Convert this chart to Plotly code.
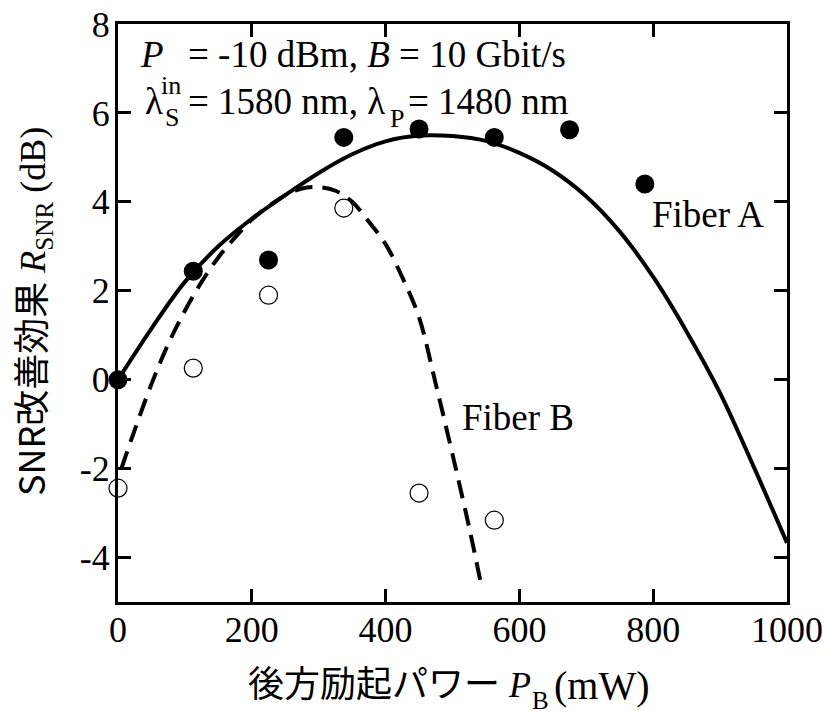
import plotly.graph_objects as go

# Measured points (backward pump power in mW, SNR improvement in dB)
pump_power = [0, 112.5, 225, 337.5, 450, 562.5, 675, 787.5]
fiber_a_snr = [0.0, 2.44, 2.69, 5.45, 5.64, 5.45, 5.62, 4.40]
pump_power_b = [0, 112.5, 225, 337.5, 450, 562.5]
fiber_b_snr = [-2.44, 0.26, 1.90, 3.86, -2.55, -3.16]

# Fitted curves
fit_a_x = [0, 50, 100, 150, 200, 250, 300, 350, 400, 450, 500, 550, 600,
           650, 700, 750, 800, 850, 900, 950, 1000]
fit_a_y = [0.0, 1.15, 2.2, 3.0, 3.62, 4.15, 4.65, 5.07, 5.36, 5.49, 5.48,
           5.37, 5.1, 4.7, 4.12, 3.33, 2.31, 1.08, -0.3, -1.95, -3.67]
fit_b_x = [5, 25, 50, 75, 100, 125, 150, 175, 200, 225, 250, 275, 300, 325,
           350, 375, 400, 425, 450, 475, 500, 525, 544]
fit_b_y = [-2.0, -1.13, -0.1, 0.8, 1.55, 2.2, 2.75, 3.2, 3.6, 3.9, 4.15, 4.3,
           4.33, 4.25, 4.0, 3.55, 3.05, 2.3, 1.4, -0.1, -1.68, -3.33, -4.7]

x_ticks = [0, 200, 400, 600, 800, 1000]
y_ticks = [-4, -2, 0, 2, 4, 6, 8]

SERIF = "Liberation Serif"
GOTHIC = "Noto Sans CJK JP"
W, H = 825, 715
L, R, T, B = 118, 787, 24, 602

def px(x):
    return (x - L) / (R - L)

def py(y):
    return (B - y) / (B - T)

fig = go.Figure()
fig.add_trace(go.Scatter(x=fit_a_x, y=fit_a_y, mode="lines",
                         line=dict(color="black", width=4, shape="spline"),
                         showlegend=False))
fig.add_trace(go.Scatter(x=fit_b_x, y=fit_b_y, mode="lines",
                         line=dict(color="black", width=4, shape="spline",
                                   dash="18px,10px"),
                         showlegend=False))
fig.add_trace(go.Scatter(x=pump_power, y=fiber_a_snr, mode="markers",
                         marker=dict(size=19, color="black"),
                         cliponaxis=False, showlegend=False))
fig.add_trace(go.Scatter(x=pump_power_b, y=fiber_b_snr, mode="markers",
                         marker=dict(size=18, color="white",
                                     line=dict(color="black", width=1.2)),
                         cliponaxis=False, showlegend=False))

axis_style = dict(showline=True, linewidth=3, linecolor="black", mirror="ticks",
                  ticks="inside", ticklen=13, tickwidth=3, tickcolor="black",
                  showgrid=False, zeroline=False, automargin=False,
                  tickfont=dict(family=SERIF, size=36, color="black"))

fig.update_xaxes(range=[0, 1000], tickvals=x_ticks, ticktext=[str(v) for v in x_ticks],
                 ticklabelstandoff=-6, **axis_style)
fig.update_yaxes(range=[-5, 8], tickvals=y_ticks, ticktext=[str(v) for v in y_ticks],
                 ticklabelstandoff=-2, **axis_style)

def label(text, x, y, size=37, anchor="left"):
    fig.add_annotation(text=text, x=px(x), y=py(y), xref="paper", yref="paper",
                       xanchor=anchor, yanchor="middle", showarrow=False,
                       font=dict(family=SERIF, size=size, color="black"))

# Condition header
label("<i>P</i>", 138, 54)
label("in", 159, 86, 26)
label("= -10 dBm, <i>B</i> = 10 Gbit/s", 186, 54)
label("λ", 143, 101)
label("S", 163, 117, 26)
label("= 1580 nm, λ", 186, 101)
label("P", 388, 118, 26)
label("= 1480 nm", 406, 101)

# Curve labels
label("Fiber A", 650, 214)
label("Fiber B", 460, 417)

# x-axis title, with a lowered subscript
label(f"<span style='font-family:{GOTHIC}'>後方励起パワー</span> <i>P</i>", 533, 681,
      size=36, anchor="right")
label("B", 530, 700, size=25)
label("(mW)", 552, 685, size=40)

# y-axis title
fig.add_annotation(
    text=f"<span style='font-family:{GOTHIC}'>SNR改善効果</span> <i>R</i><sub>SNR</sub> (dB)",
    x=px(30), y=py(312), xref="paper", yref="paper", xanchor="center",
    yanchor="middle", textangle=-90, showarrow=False,
    font=dict(family=SERIF, size=36, color="black"))

fig.update_layout(width=W, height=H, margin=dict(l=L, r=W - R, t=T, b=H - B),
                  paper_bgcolor="white", plot_bgcolor="white")

fig.write_html("out.html")
